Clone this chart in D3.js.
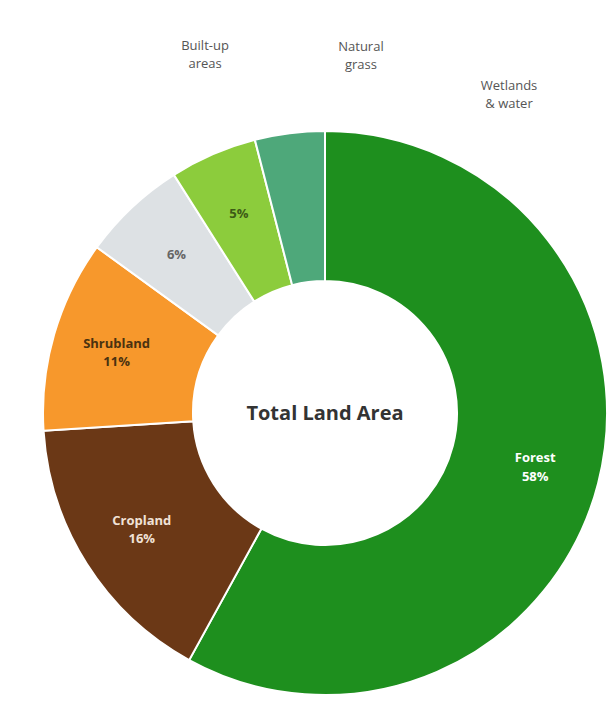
<!DOCTYPE html>
<html lang="en">
<head>
    <meta charset="UTF-8">
    <title>Land Use Donut</title>
    <script src="https://d3js.org/d3.v7.min.js"></script>
    <style>
        body { margin: 0; background: #fff; font-family: "Open Sans", "DejaVu Sans", sans-serif; }
    </style>
</head>
<body>
    <svg width="616" height="707"></svg>
    <script>
        // data
        const categories = ["Forest", "Cropland", "Shrubland", "Built-up", "Grassland", "Wetland"];
        const values = [58, 16, 11, 6, 5, 4];
        const colors = ["#1e8f1e", "#6b3816", "#f7982c", "#dde1e4", "#8ccc3c", "#4ea87a"];
        const innerText = ["#ffffff", "#f1e2d6", "#4a3210", "#666666", "#3d5a16", "#ffffff"];
        // small slices get their name outside
        const outsideLabels = [["Built-up", "areas"], ["Natural", "grass"], ["Wetlands", "& water"]];
        const centerTitle = "Total Land Area";

        const svg = d3.select("svg");
        const cx = 325, cy = 413;
        const outerR = 282, innerR = 132;
        const g = svg.append("g").attr("transform", `translate(${cx},${cy})`);

        const data = categories.map((c, i) => ({name: c, value: values[i], color: colors[i], text: innerText[i]}));
        const total = d3.sum(values);

        const pie = d3.pie().value(d => d.value).sort(null);
        const arcs = pie(data);
        const arc = d3.arc().innerRadius(innerR).outerRadius(outerR);
        const labelArc = d3.arc().innerRadius((innerR + outerR) / 2 + 10).outerRadius((innerR + outerR) / 2 + 10);

        // slices
        g.selectAll("path.slice")
            .data(arcs)
            .enter().append("path")
            .attr("class", "slice")
            .attr("d", arc)
            .attr("fill", d => d.data.color)
            .attr("stroke", "#fff")
            .attr("stroke-width", 2);

        // inside labels
        const inner = g.selectAll("text.inner")
            .data(arcs.filter(d => d.data.value >= 5))
            .enter().append("text")
            .attr("class", "inner")
            .attr("transform", d => `translate(${labelArc.centroid(d)})`)
            .attr("text-anchor", "middle")
            .attr("fill", d => d.data.text)
            .style("font-size", "13px")
            .style("font-weight", "bold");

        inner.each(function(d) {
            const t = d3.select(this);
            const pct = Math.round(d.data.value / total * 100) + "%";
            if (d.data.value >= 10) {
                t.append("tspan").attr("x", 0).attr("dy", "-0.35em").text(d.data.name);
                t.append("tspan").attr("x", 0).attr("dy", "1.4em").text(pct);
            } else {
                t.append("tspan").attr("x", 0).attr("dy", "0.35em").text(pct);
            }
        });

        // outside labels for the three smallest slices, fanned above the ring
        const small = arcs.filter(d => d.data.value < 10);
        const fan = d3.scaleLinear().domain([0, small.length - 1]).range([-18.5, 30]);
        const outR = [378, 359, 368];
        const outer = g.selectAll("text.outer")
            .data(small)
            .enter().append("text")
            .attr("class", "outer")
            .attr("transform", (d, i) => {
                const a = fan(i) * Math.PI / 180;
                return `translate(${Math.sin(a) * outR[i]},${-Math.cos(a) * outR[i]})`;
            })
            .attr("text-anchor", "middle")
            .attr("fill", "#555")
            .style("font-size", "13px");

        outer.each(function(d, i) {
            const t = d3.select(this);
            t.append("tspan").attr("x", 0).attr("dy", "-0.35em").text(outsideLabels[i][0]);
            t.append("tspan").attr("x", 0).attr("dy", "1.4em").text(outsideLabels[i][1]);
        });

        // center title
        g.append("text")
            .attr("text-anchor", "middle")
            .attr("dy", "0.35em")
            .attr("fill", "#333")
            .style("font-size", "20px")
            .style("font-weight", "bold")
            .text(centerTitle);
    </script>
</body>
</html>
